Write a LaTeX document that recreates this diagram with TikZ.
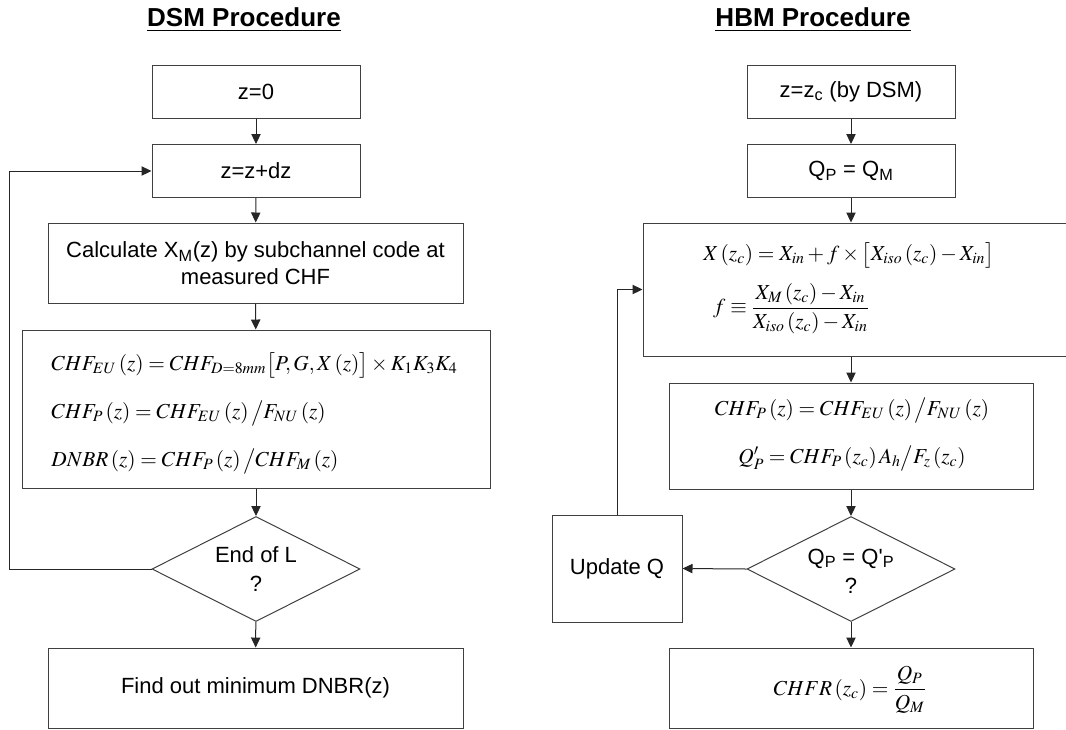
\documentclass[tikz,border=0pt]{standalone}
\usepackage{amsmath}
\usepackage{mathptmx}
\usepackage{fontspec}
\setmainfont{Liberation Sans}
\usetikzlibrary{shapes.geometric,arrows.meta}
\begin{document}
\begin{tikzpicture}[x=0.75pt,y=-0.75pt,
  box/.style={draw=black!75, line width=0.75pt, inner sep=0pt, align=center,
    font=\fontsize{16.5}{20.25}\selectfont},
  dia/.style={diamond, draw=black!75, line width=0.75pt, inner sep=0pt,
    minimum width=156pt, minimum height=78.75pt},
  txt/.style={inner sep=0pt, align=center, font=\fontsize{16.5}{21.75}\selectfont},
  arr/.style={-{Triangle[length=7.5pt,width=7pt]}, line width=0.75pt, draw=black!85},
  ttl/.style={inner sep=0pt, font=\fontsize{19.5}{23}\selectfont\bfseries},
  mth/.style={inner sep=0pt, font=\fontsize{16}{36}\selectfont}
]
\useasboundingbox (0,0) rectangle (1066,729);

% titles
\node[ttl] (t1) at (244,20) {\underline{DSM Procedure}};
\node[ttl] (t2) at (813,20) {\underline{HBM Procedure}};

% ---------- DSM ----------
\node[box, minimum width=156pt, minimum height=39.75pt] (z0) at (256,91.5) {z=0};
\node[box, minimum width=156pt, minimum height=39.75pt] (zdz) at (256,171) {z=z+dz};
\node[box, minimum width=311.25pt, minimum height=60pt] (calc) at (255.5,263)
  {Calculate X\textsubscript{M}(z) by subchannel code at\\measured CHF};
\node[box, minimum width=351pt, minimum height=118.5pt] (form) at (256,409) {};
\node[mth, align=left] (formt) at (254.5,413) {%
  $CHF_{EU}\left(z\right)=CHF_{D=8mm}\bigl[P,G,X\left(z\right)\bigr]\times K_1K_3K_4$\\
  $CHF_{P}\left(z\right)=CHF_{EU}\left(z\right)\big/F_{NU}\left(z\right)$\\
  $DNBR\left(z\right)=CHF_{P}\left(z\right)\big/CHF_{M}\left(z\right)$};
\node[dia] (d1) at (256,569) {};
\node[txt] (d1t) at (256,569) {End of L\\?};
\node[box, minimum width=311.25pt, minimum height=60pt] (find) at (255.5,688)
  {Find out minimum DNBR(z)};
\coordinate (lp) at (9,569);

\draw[arr] (z0) -- (zdz);
\draw[arr] (zdz) -- (calc);
\draw[arr] (calc) -- (form);
\draw[arr] (form) -- (d1);
\draw[arr] (d1) -- (find);
\draw[arr] (d1.west) -- (lp) |- (zdz.west);

% ---------- HBM ----------
\node[box, minimum width=156pt, minimum height=39.75pt] (zc) at (851,91.5)
  {z=z\textsubscript{c} (by DSM)};
\node[box, minimum width=156pt, minimum height=39.75pt] (qq) at (851,171)
  {Q\textsubscript{P} = Q\textsubscript{M}};
\node[box, minimum width=321pt, minimum height=99.75pt] (xb) at (857,289.5) {};
\node[mth, align=left, anchor=west] (xbt) at (703,288) {%
  $X\left(z_c\right)=X_{in}+f\times\bigl[X_{iso}\left(z_c\right)-X_{in}\bigr]$\\[4pt]
  \hspace*{7.5pt}$f\equiv\dfrac{X_M\left(z_c\right)-X_{in}}{X_{iso}\left(z_c\right)-X_{in}}$};
\node[box, minimum width=273pt, minimum height=79.5pt] (chf) at (851,436) {};
\node[mth, align=center] (chft) at (852,434) {%
  $CHF_{P}\left(z\right)=CHF_{EU}\left(z\right)\big/F_{NU}\left(z\right)$\\
  $Q'_{P}=CHF_{P}\left(z_c\right)A_h\big/F_z\left(z_c\right)$};
\node[dia] (d2) at (851,569) {};
\node[txt] (d2t) at (851,571) {Q\textsubscript{P} = Q\textquotesingle\textsubscript{P}\\?};
\node[box, minimum width=97.5pt, minimum height=80.25pt] (upd) at (617,568.5) {Update Q};
\node[box, minimum width=273pt, minimum height=60pt] (fin) at (851,688) {};
\node[mth] (fint) at (850,690) {$CHFR\left(z_c\right)=\dfrac{Q_P}{Q_M}$};

\draw[arr] (zc) -- (qq);
\draw[arr] (qq.south) -- (qq.south |- xb.north);
\draw[arr] (chf.north |- xb.south) -- (chf.north);
\draw[arr] (chf) -- (d2);
\draw[arr] (d2) -- (fin);
\draw[arr] (d2.west) -- (upd.east);
\draw[arr] (upd.north) |- (xb.west);
\end{tikzpicture}
\end{document}
